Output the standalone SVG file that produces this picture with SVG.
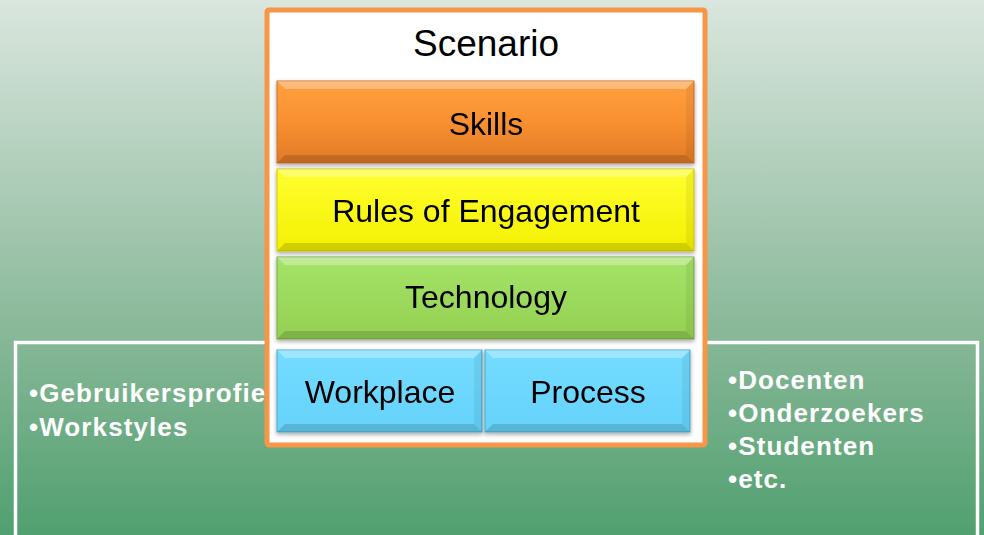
<svg xmlns="http://www.w3.org/2000/svg" width="984" height="535" viewBox="0 0 984 535">
<defs>
<linearGradient id="bg" x1="0" y1="0" x2="0" y2="1">
<stop offset="0" stop-color="#dae6de"/>
<stop offset="0.62" stop-color="#88b898"/>
<stop offset="1" stop-color="#51a070"/>
</linearGradient>
<linearGradient id="gOr" x1="0" y1="0" x2="0" y2="1">
<stop offset="0" stop-color="#ffa040"/>
<stop offset="0.5" stop-color="#f99030"/>
<stop offset="1" stop-color="#e07a28"/>
</linearGradient>
<linearGradient id="gYe" x1="0" y1="0" x2="0" y2="1">
<stop offset="0" stop-color="#ffff30"/>
<stop offset="1" stop-color="#f4f000"/>
</linearGradient>
<linearGradient id="gGr" x1="0" y1="0" x2="0" y2="1">
<stop offset="0" stop-color="#a4e468"/>
<stop offset="1" stop-color="#94d052"/>
</linearGradient>
<linearGradient id="gBl" x1="0" y1="0" x2="0" y2="1">
<stop offset="0" stop-color="#74dcff"/>
<stop offset="1" stop-color="#66d2fb"/>
</linearGradient>
<filter id="sh" x="-5%" y="-10%" width="110%" height="130%">
<feDropShadow dx="0" dy="2" stdDeviation="2" flood-color="#000" flood-opacity="0.35"/>
</filter>
</defs>
<style>
.lbl{font-family:"Liberation Sans",Arial,sans-serif;fill:#000;text-anchor:middle;font-size:32px}
.ttl{font-size:37px}
.wt{font-family:"Liberation Sans",Arial,sans-serif;font-weight:bold;fill:#fff;font-size:26px;letter-spacing:1.1px}
.hi{fill:#fff;opacity:0.3}
.lo{fill:#000;opacity:0.14}
.sd{fill:#000;opacity:0.06}
</style>
<rect x="0" y="0" width="984" height="535" fill="url(#bg)"/>
<g id="population">
<rect x="15.5" y="342.5" width="962" height="200" fill="none" stroke="#fff" stroke-width="3.5"/>
<text class="wt" x="29" y="402">•Gebruikersprofie</text>
<text class="wt" x="29" y="436">•Workstyles</text>
<text class="wt" x="728" y="389">•Docenten</text>
<text class="wt" x="728" y="422">•Onderzoekers</text>
<text class="wt" x="728" y="455">•Studenten</text>
<text class="wt" x="728" y="488">•etc.</text>
</g>
<g id="scenario">
<rect x="267" y="10" width="438" height="435" fill="#fff" stroke="#f79646" stroke-width="5" rx="2"/>
<text class="lbl ttl" x="486" y="56">Scenario</text>
</g>
<g id="skills" filter="url(#sh)">
<rect x="277" y="81" width="417" height="82" fill="url(#gOr)" stroke="#c87030" stroke-width="1"/>
<polygon class="hi" points="277,81 694,81 686,89 285,89"/>
<polygon class="lo" points="277,163 694,163 686,155 285,155"/>
<polygon class="sd" points="694,81 694,163 686,155 686,89"/>
<text class="lbl" x="486" y="135">Skills</text>
</g>
<g id="rules" filter="url(#sh)">
<rect x="277" y="169" width="417" height="82" fill="url(#gYe)" stroke="#d0c800" stroke-width="1"/>
<polygon class="hi" points="277,169 694,169 686,177 285,177"/>
<polygon class="lo" points="277,251 694,251 686,243 285,243"/>
<polygon class="sd" points="694,169 694,251 686,243 686,177"/>
<text class="lbl" x="486" y="222">Rules of Engagement</text>
</g>
<g id="technology" filter="url(#sh)">
<rect x="277" y="257" width="417" height="82" fill="url(#gGr)" stroke="#78a848" stroke-width="1"/>
<polygon class="hi" points="277,257 694,257 686,265 285,265"/>
<polygon class="lo" points="277,339 694,339 686,331 285,331"/>
<polygon class="sd" points="694,257 694,339 686,331 686,265"/>
<text class="lbl" x="486" y="308">Technology</text>
</g>
<g id="workplace" filter="url(#sh)">
<rect x="277" y="350" width="205" height="82" fill="url(#gBl)" stroke="#4aa8cc" stroke-width="1"/>
<polygon class="hi" points="277,350 482,350 474,358 285,358"/>
<polygon class="lo" points="277,432 482,432 474,424 285,424"/>
<polygon class="sd" points="482,350 482,432 474,424 474,358"/>
<text class="lbl" x="380" y="403">Workplace</text>
</g>
<g id="process" filter="url(#sh)">
<rect x="485" y="350" width="205" height="82" fill="url(#gBl)" stroke="#4aa8cc" stroke-width="1"/>
<polygon class="hi" points="485,350 690,350 682,358 493,358"/>
<polygon class="lo" points="485,432 690,432 682,424 493,424"/>
<polygon class="sd" points="690,350 690,432 682,424 682,358"/>
<text class="lbl" x="588" y="403">Process</text>
</g>
<g id="connectors"></g>
</svg>
